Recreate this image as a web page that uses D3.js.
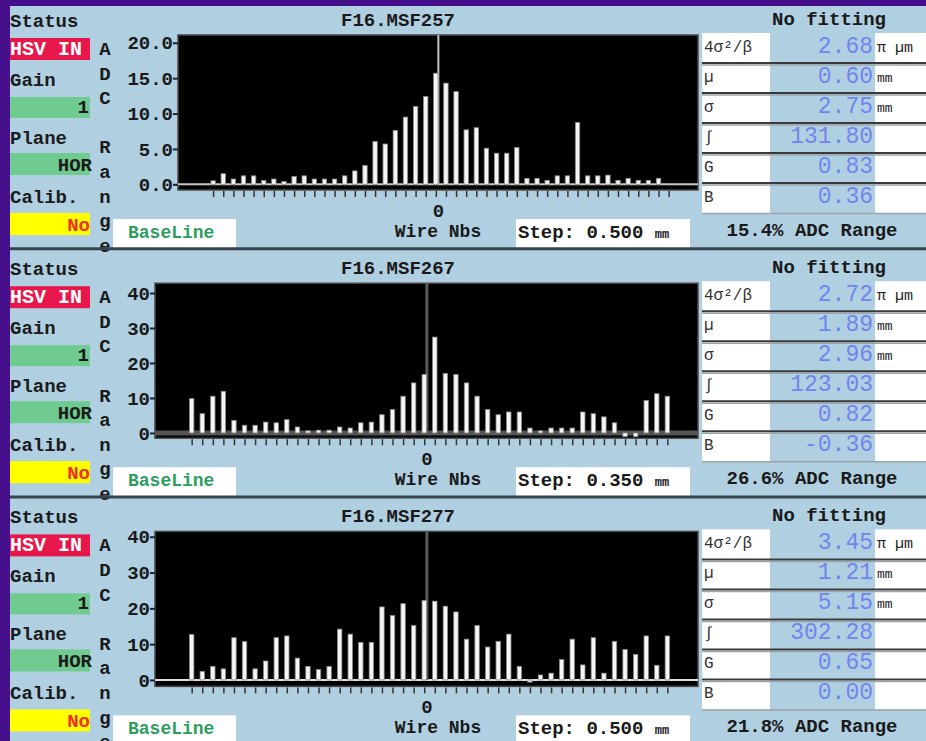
<!DOCTYPE html>
<html>
<head>
<meta charset="utf-8">
<script src="https://cdn.jsdelivr.net/npm/d3@7"></script>
<style>
  body { margin: 0; background: #46108c; }
  svg text { font-family: "Liberation Mono", monospace; }
</style>
</head>
<body>
<script>
// wire numbers, 0 = centre wire
var wires = [-22,-21,-20,-19,-18,-17,-16,-15,-14,-13,-12,-11,-10,-9,-8,-7,-6,-5,-4,-3,-2,-1,
  0,1,2,3,4,5,6,7,8,9,10,11,12,13,14,15,16,17,18,19,20,21,22,23];

// ADC values for each monitor
var adc257 = [0.5,1.5,0.75,1.2,1.2,0.55,0.75,0.4,1.1,1.2,0.75,0.75,0.75,1.2,1.9,2.65,6.05,5.7,7.6,9.5,11.0,12.4,
  15.7,14.3,13.1,7.7,8.0,5.1,4.4,4.4,5.2,0.85,0.85,0.57,1.2,1.2,8.75,1.2,1.2,1.3,0.57,0.85,0.57,0.57,0.85,0];
var adc267 = [9.8,5.5,10.5,11.9,3.6,2.2,2.2,3.1,2.9,3.8,1.7,0.6,0.8,0.8,1.7,1.4,2.9,3.1,5.2,6.7,10.5,14.3,
  16.7,27.4,17.0,16.7,14.3,10.5,6.7,5.2,6.0,6.0,1.4,0.6,1.4,1.4,1.4,6.0,5.5,4.6,2.9,-1.0,-1.0,9.3,11.2,10.5];
var adc277 = [12.7,2.4,3.8,3.1,11.8,10.7,3.1,5.3,11.8,12.3,6.1,3.8,2.9,3.8,14.2,12.8,10.5,10.5,20.4,18.0,21.3,15.2,
  22.2,22.0,20.6,19.0,11.4,15.2,9.2,10.8,12.8,3.8,-0.6,1.4,1.9,5.7,11.4,4.2,11.8,1.9,10.8,8.5,7.1,12.3,4.1,12.3];

var titles = ["F16.MSF257", "F16.MSF267", "F16.MSF277"];
var steps = ["0.500", "0.350", "0.500"];
var adcRange = ["15.4%", "26.6%", "21.8%"];
var yTicks = [[0, 5, 10, 15, 20], [0, 10, 20, 30, 40], [0, 10, 20, 30, 40]];
var yFormats = [".1f", "d", "d"];
var yDomains = [[-0.8, 21.1], [-1.5, 42.8], [-1.8, 41.5]];
var xDomain = [-25.47, 25.9];
var centreWire = 0.25;

// fit table
var rowLabels = ["4σ²/β", "µ", "σ", "∫", "G", "B"];
var rowUnits = ["π µm", "mm", "mm", "", "", ""];
var emittance = ["2.68", "2.72", "3.45"];
var mu = ["0.60", "1.89", "1.21"];
var sigma = ["2.75", "2.96", "5.15"];
var integral = ["131.80", "123.03", "302.28"];
var gain = ["0.83", "0.82", "0.65"];
var base = ["0.36", "-0.36", "0.00"];

var panelData = [adc257, adc267, adc277];

// styles per panel
var plotLeft = [178, 155, 155];
var centreColor = ["#c4c4c4", "#5a5a5a", "#5a5a5a"];
var centreWidth = [2, 3, 3];
var baseColor = ["#c8c8c8", "#555", "#e0e0e0"];
var baseWidth = [2, 5, 2];

var width = 926, height = 741;
var panelH = 248.2;
var plotTop = 35, plotBottom = 190, plotRight = 698;
var bg = "#b0d0e2";

var svg = d3.select("body").append("svg")
  .attr("width", width)
  .attr("height", height);

svg.append("rect").attr("width", width).attr("height", height).attr("fill", "#46108c");
svg.append("rect").attr("x", 10).attr("y", 6).attr("width", width - 10).attr("height", height - 6).attr("fill", bg);

var defs = svg.append("defs");

panelData.forEach(function(data, i) {
  var g = svg.append("g").attr("transform", "translate(0," + (i * panelH) + ")");

  // left status column
  var labels = [["Status", 27], ["Gain", 86], ["Plane", 144], ["Calib.", 203]];
  labels.forEach(function(l) {
    g.append("text").attr("x", 10).attr("y", l[1])
      .attr("font-size", 19).attr("font-weight", "bold").attr("fill", "#1a1a1a")
      .text(l[0]);
  });

  defs.append("clipPath").attr("id", "clipRed" + i)
    .append("rect").attr("x", 10).attr("y", 38).attr("width", 80).attr("height", 22);
  g.append("rect").attr("x", 10).attr("y", 38).attr("width", 80).attr("height", 22).attr("fill", "#e8174b");
  g.append("text").attr("x", 82).attr("y", 55).attr("text-anchor", "end")
    .attr("clip-path", "url(#clipRed" + i + ")")
    .attr("font-size", 20).attr("font-weight", "bold").attr("fill", "#fff")
    .text("HSV IN");

  g.append("rect").attr("x", 10).attr("y", 97).attr("width", 80).attr("height", 21).attr("fill", "#6fcb8f");
  g.append("text").attr("x", 89).attr("y", 113).attr("text-anchor", "end")
    .attr("font-size", 19).attr("font-weight", "bold").attr("fill", "#1a1a1a").text("1");

  g.append("rect").attr("x", 10).attr("y", 153).attr("width", 80).attr("height", 22).attr("fill", "#6fcb8f");
  g.append("text").attr("x", 92).attr("y", 171).attr("text-anchor", "end")
    .attr("font-size", 19).attr("font-weight", "bold").attr("fill", "#1a1a1a").text("HOR");

  g.append("rect").attr("x", 10).attr("y", 213).attr("width", 80).attr("height", 22).attr("fill", "#ffff00");
  g.append("text").attr("x", 90).attr("y", 231).attr("text-anchor", "end")
    .attr("font-size", 19).attr("font-weight", "bold").attr("fill", "#f03020").text("No");

  // vertical "ADC Range"
  "ADC Range".split("").forEach(function(c, k) {
    g.append("text").attr("x", 105).attr("y", 55 + k * 24.6).attr("text-anchor", "middle")
      .attr("font-size", 19).attr("font-weight", "bold").attr("fill", "#1a1a1a").text(c);
  });

  // scales
  var x = d3.scaleLinear().domain(xDomain).range([plotLeft[i], plotRight]);
  var y = d3.scaleLinear().domain(yDomains[i]).range([plotBottom, plotTop]);

  // title
  g.append("text").attr("x", 398).attr("y", 26).attr("text-anchor", "middle")
    .attr("font-size", 19).attr("font-weight", "bold").attr("fill", "#1a1a1a").text(titles[i]);

  // plot area
  g.append("rect")
    .attr("x", plotLeft[i]).attr("y", plotTop)
    .attr("width", plotRight - plotLeft[i]).attr("height", plotBottom - plotTop)
    .attr("fill", "#000").attr("stroke", "#4a4a4a").attr("stroke-width", 1.5);

  // baseline
  g.append("line")
    .attr("x1", plotLeft[i]).attr("x2", plotRight)
    .attr("y1", y(0)).attr("y2", y(0))
    .attr("stroke", baseColor[i]).attr("stroke-width", baseWidth[i]);

  // centre wire marker
  g.append("line")
    .attr("x1", x(centreWire)).attr("x2", x(centreWire))
    .attr("y1", plotTop).attr("y2", y(0))
    .attr("stroke", centreColor[i]).attr("stroke-width", centreWidth[i]);

  // bars
  g.selectAll("rect.bar")
    .data(data.map(function(v, k) { return { w: wires[k], v: v }; }).filter(function(d) { return d.v !== 0; }))
    .enter().append("rect")
    .attr("class", "bar")
    .attr("x", function(d) { return x(d.w) - 2.2; })
    .attr("width", 4.4)
    .attr("y", function(d) { return Math.min(y(d.v), y(0)); })
    .attr("height", function(d) { return Math.abs(y(d.v) - y(0)); })
    .attr("fill", "#f6f6f6")
    .attr("stroke", "#8a8a8a")
    .attr("stroke-width", 0.8);

  // y axis
  var yAxis = d3.axisLeft(y).tickValues(yTicks[i]).tickFormat(d3.format(yFormats[i]))
    .tickSize(5).tickPadding(0);
  var ya = g.append("g").attr("transform", "translate(" + plotLeft[i] + ",0)").call(yAxis);
  ya.select(".domain").remove();
  ya.selectAll("line").attr("stroke", "#222").attr("stroke-width", 2);
  ya.selectAll("text").attr("font-size", 19).attr("font-weight", "bold").attr("fill", "#1a1a1a")
    .attr("font-family", "Liberation Mono");

  // x axis ticks
  var xAxis = d3.axisBottom(x).tickValues(wires).tickSize(6).tickFormat("");
  var xa = g.append("g").attr("transform", "translate(0," + (plotBottom + 1) + ")").call(xAxis);
  xa.select(".domain").remove();
  xa.selectAll("line").attr("stroke", "#333").attr("stroke-width", 1.5);

  g.append("text").attr("x", x(centreWire)).attr("y", 217).attr("text-anchor", "middle")
    .attr("font-size", 19).attr("font-weight", "bold").attr("fill", "#1a1a1a").text("0");

  g.append("text").attr("x", 438).attr("y", 237).attr("text-anchor", "middle")
    .attr("font-size", 18).attr("font-weight", "bold").attr("fill", "#1a1a1a").text("Wire Nbs");

  // BaseLine button
  g.append("rect").attr("x", 113).attr("y", 219).attr("width", 123).attr("height", 29).attr("fill", "#fff");
  g.append("text").attr("x", 128).attr("y", 238)
    .attr("font-size", 18).attr("font-weight", "bold").attr("fill", "#2e9e5e").text("BaseLine");

  // Step box
  g.append("rect").attr("x", 516).attr("y", 219).attr("width", 174).attr("height", 29).attr("fill", "#fff");
  var st = g.append("text").attr("x", 518).attr("y", 238)
    .attr("font-size", 19).attr("font-weight", "bold").attr("fill", "#1a1a1a");
  st.append("tspan").text("Step: " + steps[i] + " ");
  st.append("tspan").attr("font-size", 12).text("mm");

  g.append("text").attr("x", 812).attr("y", 236).attr("text-anchor", "middle")
    .attr("font-size", 19).attr("font-weight", "bold").attr("fill", "#1a1a1a")
    .text(adcRange[i] + " ADC Range");

  // fit table
  g.append("text").attr("x", 829).attr("y", 25).attr("text-anchor", "middle")
    .attr("font-size", 19).attr("font-weight", "bold").attr("fill", "#1a1a1a").text("No fitting");

  var rowH = 30, tTop = 33;
  g.append("rect").attr("x", 702).attr("y", tTop).attr("width", 68).attr("height", rowH * 6).attr("fill", "#fff");
  g.append("rect").attr("x", 875).attr("y", tTop).attr("width", 51).attr("height", rowH * 6).attr("fill", "#fff");

  var vals = [emittance[i], mu[i], sigma[i], integral[i], gain[i], base[i]];
  rowLabels.forEach(function(lab, r) {
    if (r > 0) {
      g.append("line").attr("x1", 702).attr("x2", 926)
        .attr("y1", tTop + r * rowH).attr("y2", tTop + r * rowH)
        .attr("stroke", "#3a3a3a").attr("stroke-width", 2);
      g.append("line").attr("x1", 702).attr("x2", 926)
        .attr("y1", tTop + r * rowH + 2).attr("y2", tTop + r * rowH + 2)
        .attr("stroke", "#9aa4aa").attr("stroke-width", 1.5);
    }
    g.append("text").attr("x", 704).attr("y", tTop + 19 + r * rowH)
      .attr("font-family", "DejaVu Sans").attr("font-size", 16).attr("fill", "#333").text(lab);
    g.append("text").attr("x", 873).attr("y", tTop + 20 + r * rowH).attr("text-anchor", "end")
      .attr("font-size", 23).attr("fill", "#7484ee").text(vals[r]);
    if (rowUnits[r]) {
      g.append("text").attr("x", 877).attr("y", tTop + 19 + r * rowH)
        .attr("font-family", "DejaVu Sans").attr("font-size", r === 0 ? 15 : 13)
        .attr("fill", "#222").text(rowUnits[r]);
    }
  });
  g.append("line").attr("x1", 702).attr("x2", 926)
    .attr("y1", tTop + 6 * rowH + 0.5).attr("y2", tTop + 6 * rowH + 0.5)
    .attr("stroke", "#9aa4aa").attr("stroke-width", 1.5);
});

// separators between panels
[1, 2].forEach(function(k) {
  svg.append("line").attr("x1", 10).attr("x2", width)
    .attr("y1", k * panelH + 0.5).attr("y2", k * panelH + 0.5)
    .attr("stroke", "#37444c").attr("stroke-width", 3);
});
</script>
</body>
</html>
